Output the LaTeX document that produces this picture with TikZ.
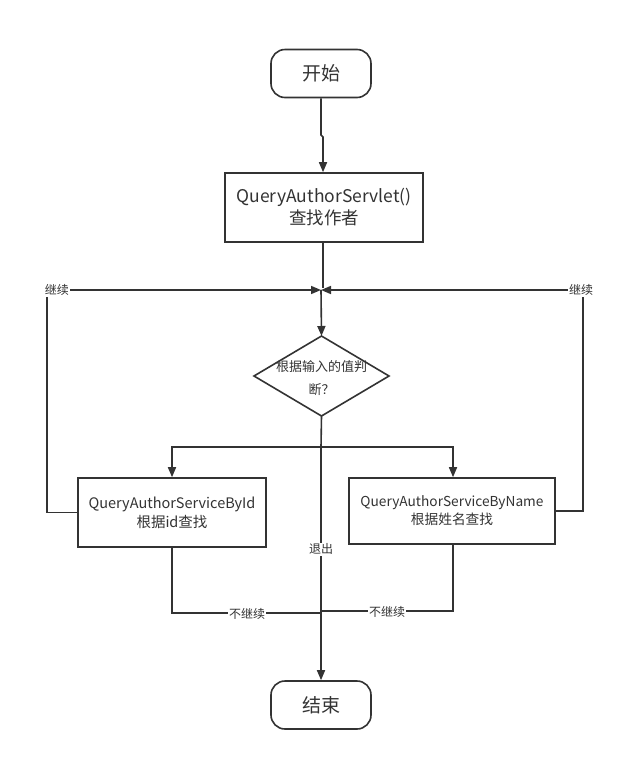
\documentclass[tikz,border=0pt]{standalone}
\usepackage{fontspec}
\setmainfont{Noto Sans CJK SC}
\usetikzlibrary{arrows.meta,shapes.geometric}
\definecolor{ink}{HTML}{333333}
\begin{document}
\begin{tikzpicture}[x=1pt,y=-1pt,
  line/.style={draw=ink,line width=1.6pt},
  arr/.style={line,-{Triangle[length=10pt,width=8pt]}},
  term/.style={draw=ink,line width=1.6pt,rounded corners=14pt,minimum width=100pt,minimum height=48pt,inner sep=0pt,font=\fontsize{19}{22}\selectfont,text=ink},
  proc/.style={draw=ink,line width=1.6pt,inner sep=0pt,align=center,text=ink},
  dectext/.style={inner sep=0pt,align=center,text=ink,font=\fontsize{13}{23}\selectfont},
  lbl/.style={fill=white,inner sep=1pt,text=ink,font=\fontsize{12}{14}\selectfont}]
\useasboundingbox (0,0) rectangle (617,761);
\fill[white] (0,0) rectangle (617,761);
\node[term] (start) at (321,73.5) {开始};
\node[proc,minimum width=198pt,minimum height=69pt,font=\fontsize{17.5}{22}\selectfont] (servlet) at (324,207.5) {QueryAuthorServlet()\\查找作者};
% decision
\coordinate (dtop) at (321.5,336);
\coordinate (dbot) at (321.5,416);
\coordinate (dleft) at (254,376);
\coordinate (dright) at (389,376);
\draw[line,line join=miter] (dtop) -- (dright) -- (dbot) -- (dleft) -- cycle;
\node[dectext] (dec) at (321.5,378.5) {根据输入的值判\\断？};
\node[proc,minimum width=188pt,minimum height=69pt,font=\fontsize{14.5}{19}\selectfont] (byid) at (172,512.5) {QueryAuthorServiceById\\根据id查找};
\node[proc,minimum width=206pt,minimum height=66pt,font=\fontsize{13.7}{18}\selectfont] (byname) at (452,511) {QueryAuthorServiceByName\\根据姓名查找};
\node[term] (end) at (321,705) {结束};
\coordinate (merge) at (321,290);
\coordinate (split) at (321,447);
\coordinate (join) at (321,613);
% start -> servlet
\draw[arr] (start.south) -- (321,135) -- (323,137) -- (servlet.north -| 323,0);
% servlet -> merge -> decision
\draw[line] (servlet.south -| 323,0) -- (323,288);
\draw[arr] (merge) -- (dtop);
% decision -> split
\draw[line] (dbot) -- (split);
\draw[arr] (split) -- (172,447) -- (byid.north);
\draw[arr] (split) -- (453,447) -- (byname.north -| 453,0);
% continue loops
\draw[arr] (byid.west) -- (47,512.5) -- (47,290) -- (merge);
\node[lbl] at (57,290) {继续};
\draw[arr] (byname.east) -- (583,511) -- (583,290) -- (merge);
\node[lbl] at (581,290) {继续};
% exit
\draw[arr] (split) -- (end.north);
\node[lbl] at (321,549) {退出};
% not continue
\draw[line] (byid.south) -- (172,613) -- (join);
\node[lbl] at (247,614) {不继续};
\draw[line] (byname.south -| 453,0) -- (453,611) -- (321,611);
\node[lbl] at (387,612) {不继续};
\end{tikzpicture}
\end{document}
